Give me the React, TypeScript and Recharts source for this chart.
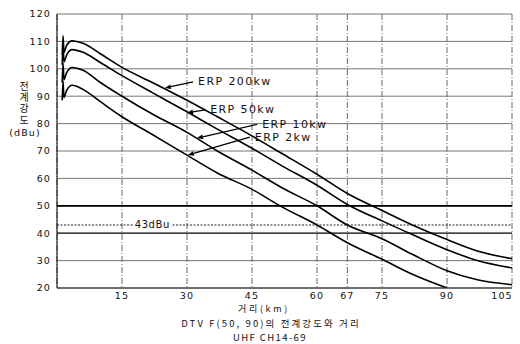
import { LineChart, Line, XAxis, YAxis, CartesianGrid, ReferenceLine, ReferenceDot } from 'recharts'

// distance (km) shared by every curve
const km = [1.2, 1.4, 1.6, 2.2, 3.5, 6, 10, 15, 22, 30, 37, 45, 52, 60, 67, 75, 82, 90, 97, 105]

// field strength (dBu) per ERP
const erp200 = [105, 112, 106, 108.5, 110.2, 109.3, 105.5, 100.5, 95, 88.5, 82.5, 75.5, 69, 61.5, 54.5, 48.3, 43, 37.7, 33.5, 30.7]
const erp50 = [101.5, 108.5, 102.5, 105, 107, 106, 102.3, 97.5, 91.3, 84.3, 78, 71, 64.5, 57.5, 50.5, 44.5, 39.5, 34, 30, 27.3]
const erp10 = [95, 102, 96, 98.5, 100.5, 99.5, 95, 90, 83.5, 76.8, 70, 63, 56.5, 50, 43, 38, 32.3, 26.3, 23, 21.2]
const erp2 = [88.5, 95.5, 89.5, 92, 94, 92.5, 88, 82.5, 76, 68.5, 62, 56, 49.5, 43, 36.5, 30.5, 25, 20, null, null]

const xTicks = [15, 30, 45, 60, 67, 75, 90, 105]
const yTicks = [20, 30, 40, 50, 60, 70, 80, 90, 100, 110, 120]

const series = [
  { name: 'ERP 200kw', values: erp200 },
  { name: 'ERP 50kw', values: erp50 },
  { name: 'ERP 10kw', values: erp10 },
  { name: 'ERP 2kw', values: erp2 },
]

// label arrows, in km / dBu
const notes = [
  { text: 'ERP 200kw', from: { x: 31.4, y: 95.2 }, to: { x: 24.9, y: 93 } },
  { text: 'ERP 50kw', from: { x: 34.2, y: 85 }, to: { x: 30, y: 83.9 } },
  { text: 'ERP 10kw', from: { x: 46.2, y: 79.7 }, to: { x: 32.3, y: 74.7 } },
  { text: 'ERP 2kw', from: { x: 44.5, y: 75.1 }, to: { x: 30.2, y: 68.5 } },
]

const toPoints = (vals: (number | null)[]) =>
  km.map((k, i) => ({ km: k, v: vals[i] })).filter((p) => p.v != null)

const labelFont = { fontFamily: 'DejaVu Sans', fontSize: 11, letterSpacing: 1.4, fill: '#111' }

const arrowShape = (text: string) => (p: any) => {
  const { x1, y1, x2, y2 } = p
  const a = Math.atan2(y2 - y1, x2 - x1)
  const bx = x2 - 6 * Math.cos(a)
  const by = y2 - 6 * Math.sin(a)
  const px = -Math.sin(a) * 2.4
  const py = Math.cos(a) * 2.4
  return (
    <g>
      <line x1={x1} y1={y1} x2={bx} y2={by} stroke="#000" strokeWidth={1.3} />
      <polygon points={`${x2},${y2} ${bx + px},${by + py} ${bx - px},${by - py}`} fill="#000" />
      <text x={x1 + 5} y={y1} dominantBaseline="central" {...labelFont}>{text}</text>
    </g>
  )
}

const dbuLabel = (p: any) => (
  <g>
    <rect x={p.cx - 19} y={p.cy - 6} width={38} height={11} fill="#fff" />
    <text x={p.cx} y={p.cy} textAnchor="middle" dominantBaseline="central"
      fontFamily="DejaVu Sans" fontSize={10} letterSpacing={0.6} fill="#111">43dBu</text>
  </g>
)

const tickStyle = { fontSize: 9.5, fill: '#111', fontFamily: 'DejaVu Sans', letterSpacing: 1.1 }
const kr = { fontFamily: '"Noto Sans CJK KR"', fontSize: 9.5, fill: '#111' }

const XTick = ({ x, y, payload }: any) => (
  <text x={x + (payload.value === 105 ? -6 : 0)} y={y + 7.5} textAnchor="middle" dominantBaseline="central" {...tickStyle}>
    {payload.value}
  </text>
)

export default function App() {
  return (
    <div style={{ position: 'absolute', left: 0, top: 0, width: 520, height: 344, background: '#fff' }}>
      <LineChart width={520} height={344} margin={{ top: 14, right: 8, left: 0, bottom: 0 }}>
        <CartesianGrid stroke="#666" strokeWidth={1} horizontal={false} strokeDasharray="6 2 1 2" />
        <CartesianGrid stroke="#777" strokeWidth={1} vertical={false} />
        <XAxis type="number" dataKey="km" domain={[0, 105]} ticks={xTicks} height={56}
          tickSize={0} tickMargin={0} tick={<XTick />} stroke="#222" allowDataOverflow />
        <YAxis type="number" domain={[20, 120]} ticks={yTicks} width={57}
          tickSize={0} tickMargin={6} tick={tickStyle} stroke="#000" allowDataOverflow />
        <ReferenceLine y={50} stroke="#000" strokeWidth={1.8} />
        <ReferenceLine y={40} stroke="#222" strokeWidth={1.3} />
        <ReferenceLine y={43} stroke="#222" strokeWidth={1.2} strokeDasharray="2 1.5" />
        <ReferenceDot x={22} y={43} r={0} shape={dbuLabel} />
        {series.map((s) => (
          <Line key={s.name} data={toPoints(s.values)} dataKey="v" type="monotone"
            stroke="#000" strokeWidth={1.6} dot={false} isAnimationActive={false} />
        ))}
        {notes.map((n) => (
          <ReferenceLine key={n.text} segment={[n.from, n.to]} shape={arrowShape(n.text)} />
        ))}
      </LineChart>
      <svg width={520} height={344} style={{ position: 'absolute', left: 0, top: 0, pointerEvents: 'none' }}>
        <text x={24} y={81} fontFamily='"Noto Sans CJK KR"' fontSize={10} letterSpacing={1.3} fill="#111"
          style={{ writingMode: 'vertical-rl' }}>전계강도</text>
        <text x={25} y={132} textAnchor="middle" dominantBaseline="central" {...tickStyle}>(dBu)</text>
        <text x={264} y={308.5} textAnchor="middle" dominantBaseline="central" {...kr} fontSize={9} letterSpacing={2.7}>거리(km)</text>
        <text x={271} y={322.5} textAnchor="middle" dominantBaseline="central" {...kr} letterSpacing={2.1}>DTV  F(50, 90)의 전계강도와 거리</text>
        <text x={270} y={336.5} textAnchor="middle" dominantBaseline="central" {...kr} letterSpacing={1.4}>UHF CH14-69</text>
      </svg>
    </div>
  )
}
